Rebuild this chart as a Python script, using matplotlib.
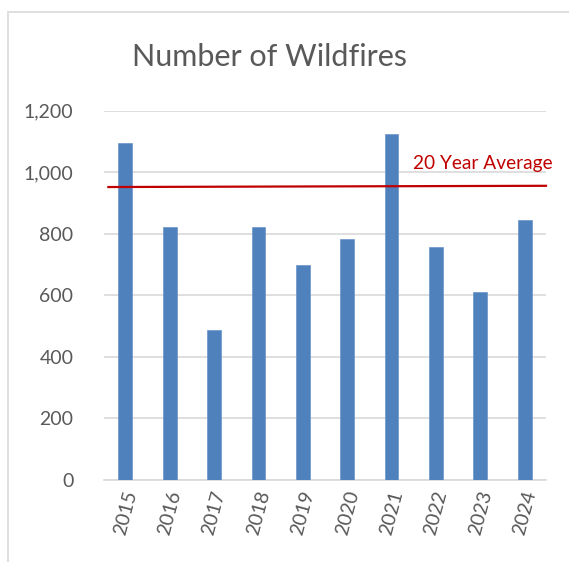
import matplotlib.pyplot as plt
from matplotlib.patches import Rectangle

years = ["2015", "2016", "2017", "2018", "2019", "2020", "2021", "2022", "2023", "2024"]
fires = [1095, 821, 486, 821, 700, 782, 1124, 757, 611, 844]
avg_start = 952
avg_end = 956
avg_label = "20 Year Average"
title = "Number of Wildfires"
yticks = [0, 200, 400, 600, 800, 1000, 1200]

plt.rcParams["font.family"] = ["Lato", "DejaVu Sans"]

fig = plt.figure(figsize=(5.69, 5.62), dpi=100)
fig.patches.append(Rectangle((8 / 569, -0.1), 1.2, 1 - 12 / 562 + 0.1,
                             transform=fig.transFigure, fill=False,
                             edgecolor="#D9D9D9", linewidth=1.2))

ax = fig.add_axes([104 / 569, 1 - 480 / 562, 442 / 569, 369.3 / 562])
x = list(range(len(years)))
ax.bar(x, fires, width=0.31, color="#4F81BD", edgecolor="#6C95C8", linewidth=0.5, zorder=3)
ax.set_xlim(-0.48, len(years) - 0.52)
ax.set_ylim(0, 1200)

ax.plot([0.01, 1.0], [avg_start, avg_end], color="#C00000", linewidth=1.6,
        transform=ax.get_yaxis_transform(), zorder=4, clip_on=False)
ax.text(1.015, 1028, avg_label, color="#C00000", fontsize=13.8,
        ha="right", va="center", transform=ax.get_yaxis_transform())

ax.set_yticks(yticks)
ax.set_yticklabels([f"{v:,}" for v in yticks])
ax.set_xticks(x)
ax.set_xticklabels(years, rotation=75, ha="center", va="top")
ax.tick_params(axis="y", length=0, pad=22, labelsize=14, labelcolor="#595959")
ax.tick_params(axis="x", length=0, pad=6, labelsize=14, labelcolor="#595959")
ax.grid(axis="y", color="#D9D9D9", linewidth=1.2, zorder=0)
for side in ["top", "right", "left"]:
    ax.spines[side].set_visible(False)
ax.spines["bottom"].set_color("#D9D9D9")
ax.spines["bottom"].set_linewidth(1.2)

fig.text(269 / 569, 1 - 57 / 562, title, ha="center", va="center",
         fontsize=22, color="#595959")

fig.savefig("out.png", dpi=100)
